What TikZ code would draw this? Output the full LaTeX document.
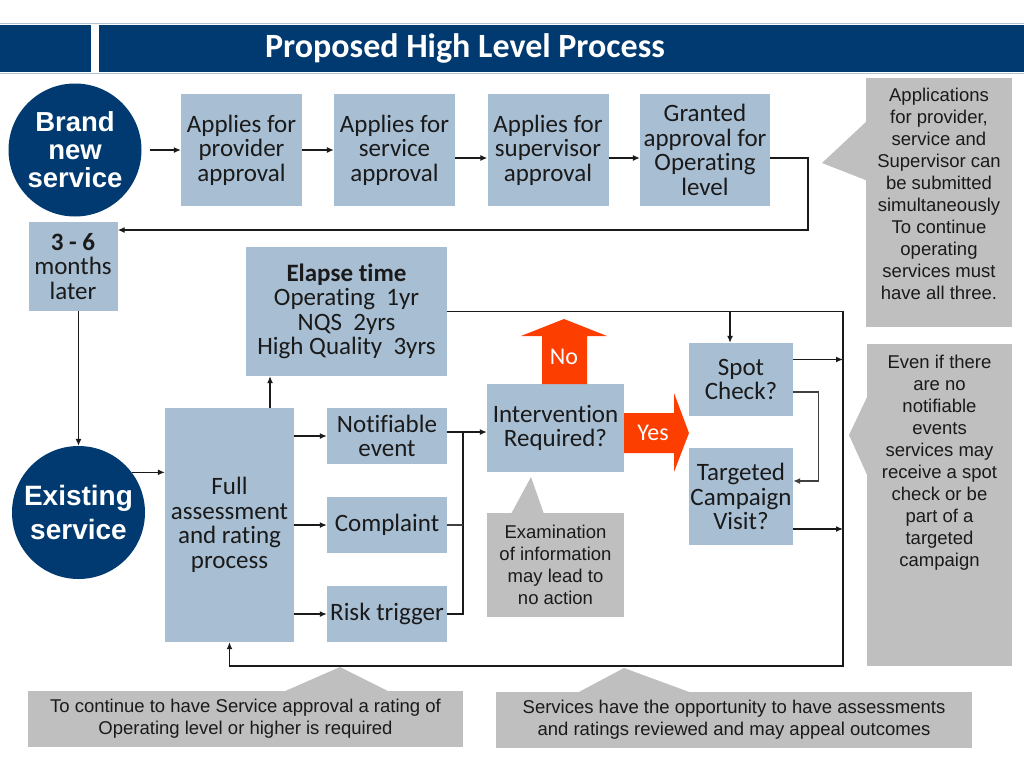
\documentclass[tikz,border=0pt]{standalone}
\usepackage{fontspec}
\setmainfont{Carlito}[Ligatures={NoCommon,NoRequired,NoContextual}, Contextuals=NoAlternate]
\newfontfamily\arial{Liberation Sans}
\usetikzlibrary{arrows.meta}

\definecolor{navy}{RGB}{0,58,112}
\definecolor{steel}{RGB}{168,190,211}
\definecolor{callgray}{RGB}{191,191,191}
\definecolor{alert}{RGB}{252,62,0}
\definecolor{ink}{RGB}{26,26,26}
\definecolor{rulecol}{RGB}{176,196,214}

\tikzset{
  stepbox/.style={fill=steel, text=ink, inner sep=0pt, align=center, font=\fontsize{25}{24.5}\selectfont},
  svc/.style={circle, fill=navy, text=white, inner sep=0pt, minimum size=133pt, align=center, font=\arial\bfseries\fontsize{27.5}{28}\selectfont},
  remark/.style={fill=callgray, text=ink, inner sep=0pt, align=center, font=\arial\fontsize{18.5}{22}\selectfont},
  link/.style={draw=ink, line width=1.2pt, -{Latex[length=7pt,width=6pt]}},
  wire/.style={draw=ink, line width=1.2pt},
}

\begin{document}
\begin{tikzpicture}[x=1pt,y=-1pt]
  \useasboundingbox (0,0) rectangle (1024,768);

  \fill[navy] (0,25) rectangle (91,72);
  \fill[navy] (99,25) rectangle (1024,72);
  \draw[rulecol, line width=1pt] (0,23.5) -- (1024,23.5) (0,73.5) -- (1024,73.5);
  \node[text=white, font=\bfseries\fontsize{34}{36}\selectfont, anchor=base] (title) at (465,58) {Proposed High Level Process};

  % pointers of the grey notes
  \fill[callgray] (822,163) -- (868,120) -- (868,181) -- cycle;
  \fill[callgray] (849,435) -- (868,395) -- (868,477) -- cycle;
  \fill[callgray] (531,477) -- (511,514) -- (544,514) -- cycle;
  \fill[callgray] (340,667) -- (283,692) -- (390,692) -- cycle;
  \fill[callgray] (624,668) -- (577,693) -- (692,693) -- cycle;

  \node[svc] (brand) at (75,150) {Brand\\new\\service};
  \foreach \n/\x/\t in {prov/241.5/provider, serv/394.5/service, sup/548/supervisor}
    \node[stepbox, minimum width=121pt, minimum height=112pt] (\n) at (\x,150) {Applies for\\\t\\approval};
  \node[stepbox, minimum width=130pt, minimum height=112pt] (grant) at (705,150) {Granted\\approval for\\Operating\\level};

  \node[stepbox, minimum width=89pt, minimum height=89pt] (later) at (73,266.5) {\textbf{3 - 6}\\months\\later};
  \node[svc, font=\arial\bfseries\fontsize{28}{34}\selectfont] (exist) at (78.5,512.5) {Existing\\service};
  \node[stepbox, minimum width=129pt, minimum height=234pt] (full) at (229.5,525) {Full\\assessment\\and rating\\process};
  \node[stepbox, minimum width=201pt, minimum height=129pt] (elapse) at (346.5,311.5) {\textbf{Elapse time}\\Operating\ \ 1yr\\NQS\ \ 2yrs\\High Quality\ \ 3yrs};
  \foreach \n/\y/\t in {notif/436/{Notifiable\\event}, compl/525/Complaint, risk/614/Risk trigger}
    \node[stepbox, minimum width=120pt, minimum height=56pt] (\n) at (387,\y) {\t};
  \node[stepbox, minimum width=137pt, minimum height=88pt] (interv) at (555.5,428) {Intervention\\Required?};
  \node[stepbox, minimum width=104pt, minimum height=73pt] (spot) at (741,379.5) {Spot\\Check?};
  \node[stepbox, minimum width=104pt, minimum height=97pt] (target) at (741,496.5) {Targeted\\Campaign\\Visit?};

  % no / yes arrows
  \fill[alert] (542,384) -- (542,336) -- (521,336) -- (564,319) -- (607,336) -- (587,336) -- (587,384) -- cycle;
  \node[text=white, font=\fontsize{24}{24}\selectfont] (no) at (564,357) {No};
  \fill[alert] (624,413) -- (674,413) -- (674,393) -- (689,433) -- (674,472) -- (674,453) -- (624,453) -- cycle;
  \node[text=white, font=\fontsize{24}{24}\selectfont] (yes) at (653,433) {Yes};

  \node[remark, minimum width=146pt, minimum height=249pt] (apps) at (939,202.5) {\parbox[c][229pt][t]{144pt}{\centering Applications\\for provider,\\service and\\Supervisor can\\be submitted\\simultaneously\\To continue\\operating\\services must\\have all three.}};
  \node[remark, minimum width=145pt, minimum height=322pt] (even) at (939.5,505) {\parbox[c][300pt][t]{140pt}{\centering Even if there\\are no\\notifiable\\events\\services may\\receive a spot\\check or be\\part of a\\targeted\\campaign}};
  \node[remark, minimum width=137pt, minimum height=104pt] (exam) at (555.5,565) {Examination\\of information\\may lead to\\no action};
  \node[remark, minimum width=435pt, minimum height=56pt] (rating) at (245.5,719) {To continue to have Service approval a rating of\\Operating level or higher is required};
  \node[remark, minimum width=476pt, minimum height=56pt] (appeal) at (734,719.5) {Services have the opportunity to have assessments\\and ratings reviewed and may appeal outcomes};

  \coordinate (back) at (808,230);
  \coordinate (merge) at (463,432);
  \coordinate (loop) at (843,666);

  \draw[link] ([xshift=8pt]brand.east) -- (prov);
  \draw[link] (prov) -- (serv);
  \draw[link] ([yshift=-8pt]serv.east) -- ([yshift=-8pt]sup.west);
  \draw[link] ([yshift=-8pt]sup.east) -- ([yshift=-8pt]grant.west);
  \draw[link] ([yshift=-8pt]grant.east) -| (back) -- (back -| later.east);
  \draw[link] (exist.north |- later.south) -- (exist.north);
  \draw[link] (exist.37) -- (exist.37 -| full.west);
  \draw[link] ([xshift=40.5pt]full.north) -- ([xshift=40.5pt]full.north |- elapse.south);
  \foreach \n in {notif,compl,risk}
    \draw[link] (full.east |- \n) -- (\n);
  \draw[link] (notif.east |- merge) -- (merge -| interv.west);
  \draw[wire] (risk.east) -| (merge);
  \draw[wire, draw=darkgray] (compl.east) -- (compl.east -| merge);
  \draw[link] (elapse.east) -| (loop) -| (full.south);
  \draw[link] ([xshift=-11pt]spot.north |- elapse.east) -- ([xshift=-11pt]spot.north);
  \draw[link] ([yshift=20pt]spot.east) -- ([yshift=20pt]spot.east -| loop);
  \draw[link, draw=darkgray] ([yshift=-12.5pt]spot.east) -- ++(25,0) |- ([yshift=15.5pt]target.east);
  \draw[link] ([yshift=-32.5pt]target.east) -- ([yshift=-32.5pt]target.east -| loop);
\end{tikzpicture}
\end{document}
